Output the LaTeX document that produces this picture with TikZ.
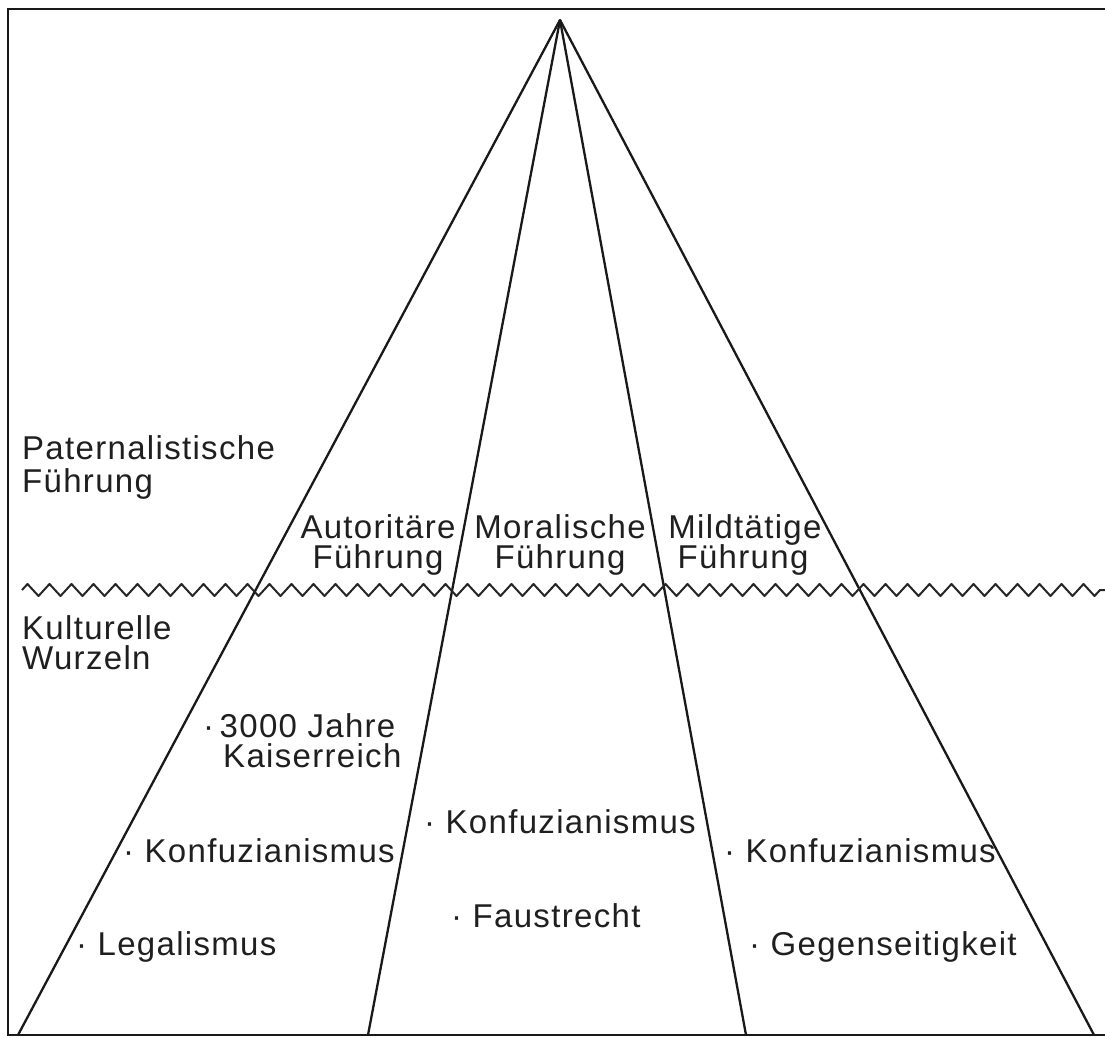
\documentclass[tikz,border=0pt]{standalone}
\usepackage{fontspec}
\setmainfont{Liberation Sans}
\usetikzlibrary{decorations.pathmorphing}
\begin{document}
\begin{tikzpicture}[x=1pt,y=-1pt,
  lbl/.style={inner sep=0pt,text=black!88,font=\fontsize{33}{35}\selectfont\addfontfeature{LetterSpace=4}},
  edge/.style={line width=2.3pt,black!90},
  frame/.style={line width=2.3pt,black!90}]
\useasboundingbox (0,0) rectangle (1105,1037);
% frame
\draw[frame] (1105,9) -- (8,9) -- (8,1035) -- (1105,1035);
% apex and base points
\coordinate (apex) at (560,20);
\coordinate (b1) at (18,1035);
\coordinate (b2) at (368,1035);
\coordinate (b3) at (746,1035);
\coordinate (b4) at (1094,1035);
\draw[edge,line join=round] (b1) -- (apex) -- (b4);
\draw[edge] (apex) -- (b2);
\draw[edge] (apex) -- (b3);
% wavy line
\coordinate (wl) at (22,590);
\coordinate (wr) at (1105,590);
\draw[line width=2pt,black!85,line join=round,decorate,decoration={zigzag,segment length=22pt,amplitude=6pt}] (wl) -- (wr);
% left labels
\node[lbl,anchor=base west] (p1) at (22,459) {Paternalistische};
\node[lbl,anchor=base west] (p2) at (22,492) {Führung};
\node[lbl,anchor=base west] (k1) at (22,639) {Kulturelle};
\node[lbl,anchor=base west] (k2) at (22,669) {Wurzeln};
% columns headers
\node[lbl,anchor=base] (a1) at (378,538) {Autoritäre};
\node[lbl,anchor=base] (a2) at (378,568) {Führung};
\node[lbl,anchor=base] (m1) at (560,538) {Moralische};
\node[lbl,anchor=base] (m2) at (560,568) {Führung};
\node[lbl,anchor=base] (g1) at (745,538) {Mildtätige};
\node[lbl,anchor=base] (g2) at (743,568) {Führung};
% roots
\node[lbl,anchor=base west] (r1) at (203,737) {·\,3000 Jahre};
\node[lbl,anchor=base west] (r2) at (223,767) {Kaiserreich};
\node[lbl,anchor=base west] (r3) at (123,862) {· Konfuzianismus};
\node[lbl,anchor=base west] (r4) at (76,955) {· Legalismus};
\node[lbl,anchor=base west] (r5) at (424,833) {· Konfuzianismus};
\node[lbl,anchor=base west] (r6) at (451,927) {· Faustrecht};
\node[lbl,anchor=base west] (r7) at (724,862) {· Konfuzianismus};
\node[lbl,anchor=base west] (r8) at (749,955) {· Gegenseitigkeit};
\end{tikzpicture}
\end{document}
